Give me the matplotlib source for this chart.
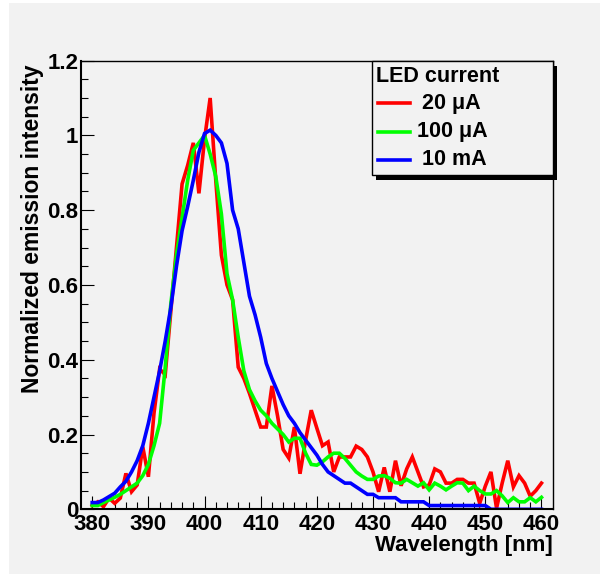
# LED emission spectra at three drive currents, ROOT-like styling.

import matplotlib
matplotlib.use("Agg")
import matplotlib.pyplot as plt
from matplotlib.patches import Rectangle
from matplotlib.lines import Line2D
import numpy as np

plt.rcParams['font.family'] = ['Liberation Sans', 'DejaVu Sans']
plt.rcParams['font.weight'] = 'bold'

wavelength = list(range(380, 461))

red_20uA = [0.01, 0.02, 0.007, 0.03, 0.016, 0.03, 0.096, 0.047, 0.065, 0.167,
            0.087, 0.257, 0.375, 0.36, 0.53, 0.70, 0.87, 0.92, 0.98, 0.845,
            0.99, 1.10, 0.88, 0.68, 0.60, 0.56, 0.38, 0.35, 0.31, 0.265,
            0.22, 0.22, 0.33, 0.25, 0.16, 0.137, 0.22, 0.095, 0.185, 0.265,
            0.217, 0.17, 0.18, 0.10, 0.14, 0.14, 0.14, 0.169, 0.16, 0.14,
            0.10, 0.047, 0.112, 0.047, 0.13, 0.063, 0.108, 0.14, 0.10, 0.06,
            0.065, 0.108, 0.10, 0.07, 0.07, 0.08, 0.08, 0.07, 0.07, 0.016,
            0.062, 0.10, 0.003, 0.07, 0.13, 0.06, 0.09, 0.07, 0.035, 0.05,
            0.07]

green_100uA = [0.01, 0.01, 0.018, 0.025, 0.032, 0.04, 0.05, 0.06, 0.07, 0.09,
               0.12, 0.17, 0.23, 0.38, 0.55, 0.68, 0.78, 0.88, 0.96, 0.98,
               1.00, 0.95, 0.89, 0.79, 0.63, 0.56, 0.46, 0.37, 0.32, 0.29,
               0.265, 0.25, 0.23, 0.215, 0.20, 0.18, 0.19, 0.19, 0.15, 0.12,
               0.118, 0.127, 0.14, 0.15, 0.15, 0.136, 0.118, 0.10, 0.089, 0.08,
               0.08, 0.089, 0.09, 0.083, 0.071, 0.07, 0.08, 0.071, 0.062, 0.071,
               0.052, 0.07, 0.062, 0.052, 0.062, 0.071, 0.07, 0.05, 0.062, 0.05,
               0.041, 0.041, 0.05, 0.036, 0.018, 0.031, 0.02, 0.02, 0.031, 0.02,
               0.032]

blue_10mA = [0.018, 0.018, 0.025, 0.034, 0.043, 0.06, 0.075, 0.10, 0.13, 0.17,
             0.23, 0.30, 0.37, 0.45, 0.54, 0.65, 0.745, 0.81, 0.88, 0.955,
             1.005, 1.014, 1.00, 0.98, 0.925, 0.80, 0.75, 0.66, 0.57, 0.52,
             0.46, 0.39, 0.35, 0.315, 0.28, 0.25, 0.23, 0.205, 0.185, 0.165,
             0.145, 0.12, 0.10, 0.09, 0.08, 0.07, 0.07, 0.06, 0.05, 0.04,
             0.04, 0.031, 0.031, 0.031, 0.031, 0.02, 0.02, 0.02, 0.02, 0.02,
             0.01, 0.01, 0.01, 0.01, 0.01, 0.01, 0.01, 0.01, 0.01, 0.01,
             0.01, 0.0, 0.0, 0.0, 0.0, 0.0, 0.0, 0.0, 0.0, 0.0,
             0.0]

series_labels = ['20 μA', '100 μA', '10 mA']
series_colors = ['#ff0000', '#00ff00', '#0000ff']
y_ticks = [0, 0.2, 0.4, 0.6, 0.8, 1.0, 1.2]
y_tick_labels = ['0', '0.2', '0.4', '0.6', '0.8', '1', '1.2']
x_ticks = list(range(380, 461, 10))

W, H = 600, 574
bg = '#f2f2f2'


def fx(px):
    return px / W


def fy(py):
    return 1 - py / H


fig = plt.figure(figsize=(6, 5.74), dpi=100, facecolor='white')
# grey canvas
fig.add_artist(Rectangle((fx(9), 0), 1 - fx(9), fy(3), transform=fig.transFigure,
                         facecolor=bg, edgecolor='none', zorder=-10))

ax = fig.add_axes([fx(81), fy(509.3), fx(552.7) - fx(81), fy(60.6) - fy(509.3)])
ax.set_facecolor(bg)

for ys, c in zip([red_20uA, green_100uA, blue_10mA], series_colors):
    ax.plot(wavelength, ys, color=c, lw=2.6, solid_joinstyle='miter')

ax.set_xlim(378, 462)
ax.set_ylim(0, 1.2)
ax.set_xticks(x_ticks)
ax.set_xticks(np.arange(380, 461, 2), minor=True)
ax.set_yticks(y_ticks)
ax.set_yticklabels(y_tick_labels)
ax.set_yticks(np.arange(0, 1.2001, 0.05), minor=True)

ax.tick_params(which='both', direction='in', top=False, right=False,
               width=0.8, color='black', labelsize=16)
ax.tick_params(which='major', length=9.5)
ax.tick_params(which='minor', length=4.8)
ax.tick_params(axis='x', which='major', pad=3.5)
ax.tick_params(axis='y', which='major', pad=2)
for s in ['left', 'bottom']:
    ax.spines[s].set_linewidth(1.5)
for s in ['top', 'right']:
    ax.spines[s].set_linewidth(1.0)

ax.text(1.0, -0.08, 'Wavelength [nm]', transform=ax.transAxes,
        ha='right', va='center', fontsize=16)
fig.text(fx(33), fy(64), 'Normalized emission intensity', rotation=90,
         ha='center', va='top', fontsize=16.5)

# legend box with solid shadow
fig.add_artist(Rectangle((fx(376), fy(180)), fx(552.7) - fx(371.7), fy(60.7) - fy(175),
                         transform=fig.transFigure, facecolor='black', edgecolor='none', zorder=5))
fig.add_artist(Rectangle((fx(371.7), fy(175)), fx(552.7) - fx(371.7), fy(60.7) - fy(175),
                         transform=fig.transFigure, facecolor=bg, edgecolor='black', lw=1, zorder=6))
fig.text(fx(375.5), fy(77), 'LED current', ha='left', va='center', fontsize=15.5, zorder=7)
entry_y = [103.3, 131.7, 160]
entry_x = [421.7, 416.7, 422]
for lab, c, ey, ex in zip(series_labels, series_colors, entry_y, entry_x):
    fig.add_artist(Line2D([fx(378), fx(410)], [fy(ey), fy(ey)], color=c, lw=2.6,
                          transform=fig.transFigure, zorder=7))
    fig.text(fx(ex), fy(ey), lab, ha='left', va='center', fontsize=15.5, zorder=7)

fig.savefig('out.png', dpi=100, facecolor='white')
